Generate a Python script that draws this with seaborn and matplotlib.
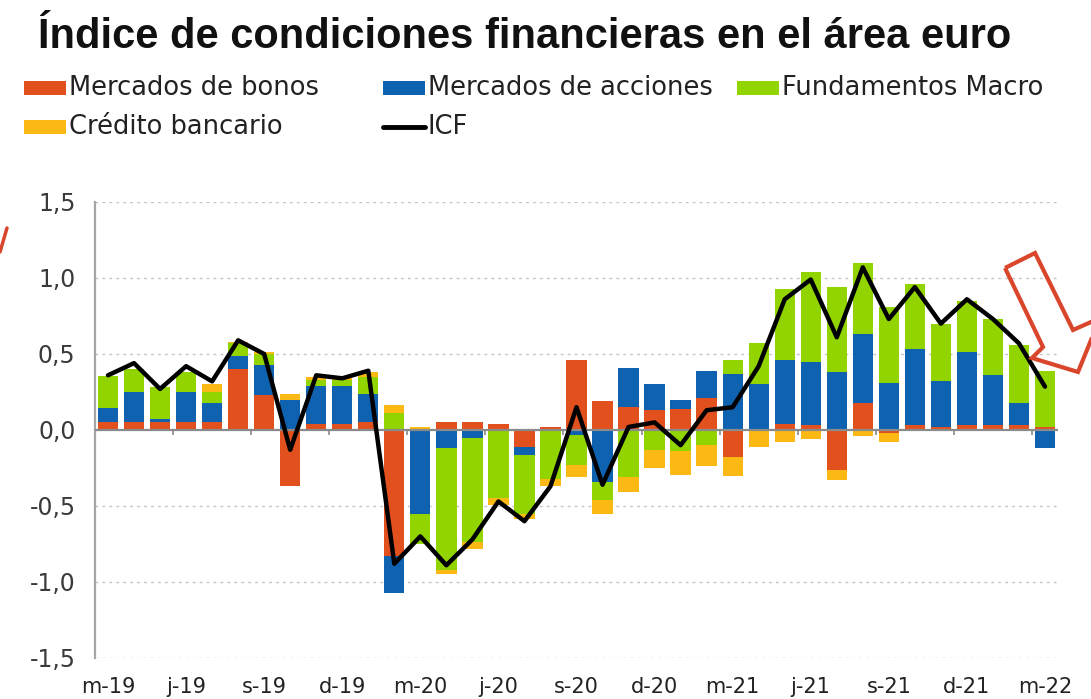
import numpy as np
import pandas as pd
import matplotlib
matplotlib.use("Agg")
import matplotlib.pyplot as plt
import seaborn as sns
from matplotlib.patches import Rectangle, Polygon
from matplotlib.lines import Line2D

# monthly data, Mar-19 .. Mar-22
months = pd.date_range("2019-03-01", "2022-03-01", freq="MS")
tick_labels = ["m-19", "j-19", "s-19", "d-19", "m-20", "j-20", "s-20",
               "d-20", "m-21", "j-21", "s-21", "d-21", "m-22"]

bonos = [0.055, 0.05, 0.05, 0.05, 0.05, 0.40, 0.23, -0.37, 0.04, 0.04, 0.05, -0.83,
         0.0, 0.055, 0.055, 0.04, -0.11, 0.02, 0.46, 0.19, 0.15, 0.13, 0.14, 0.21,
         -0.175, 0.0, 0.04, 0.03, -0.26, 0.18, -0.02, 0.03, 0.02, 0.03, 0.03, 0.03, 0.02]
acciones = [0.09, 0.20, 0.02, 0.20, 0.13, 0.09, 0.20, 0.20, 0.25, 0.25, 0.19, -0.24,
            -0.55, -0.12, -0.055, 0.0, -0.055, 0.0, -0.03, -0.34, 0.26, 0.175, 0.055, 0.175,
            0.37, 0.30, 0.42, 0.42, 0.38, 0.45, 0.31, 0.50, 0.30, 0.48, 0.33, 0.15, -0.12]
macro = [0.21, 0.15, 0.21, 0.13, 0.07, 0.08, 0.07, 0.0, 0.04, 0.04, 0.11, 0.11,
         -0.20, -0.80, -0.68, -0.45, -0.39, -0.32, -0.20, -0.12, -0.31, -0.13, -0.14, -0.10,
         0.09, 0.27, 0.47, 0.59, 0.56, 0.47, 0.50, 0.43, 0.38, 0.34, 0.37, 0.38, 0.37]
credito = [0.0, 0.0, 0.0, 0.0, 0.05, 0.01, 0.01, 0.04, 0.02, 0.01, 0.03, 0.055,
           0.02, -0.03, -0.045, -0.045, -0.03, -0.05, -0.08, -0.09, -0.10, -0.12, -0.155, -0.14,
           -0.13, -0.11, -0.08, -0.06, -0.07, -0.04, -0.06, 0.0, 0.0, 0.0, 0.0, 0.0, 0.0]
icf = [0.36, 0.44, 0.27, 0.42, 0.32, 0.59, 0.50, -0.13, 0.36, 0.34, 0.39, -0.88,
       -0.70, -0.89, -0.72, -0.47, -0.60, -0.37, 0.15, -0.36, 0.02, 0.05, -0.10, 0.13,
       0.15, 0.42, 0.86, 0.99, 0.61, 1.07, 0.73, 0.94, 0.70, 0.86, 0.73, 0.57, 0.285]

names = ["Mercados de bonos", "Mercados de acciones", "Fundamentos Macro", "Crédito bancario"]
colors = ["#E2501E", "#0F62B0", "#92D400", "#FDB913"]

sns.set_theme(style="white")
plt.rcParams["font.family"] = ["DejaVu Sans"]

W, H = 1091, 699
fig = plt.figure(figsize=(W / 100, H / 100), dpi=100)
ax = fig.add_axes([95 / W, 41 / H, 963 / W, 456 / H])

x = np.arange(len(months))
pos_b = np.zeros(len(x))
neg_b = np.zeros(len(x))
for vals, c in zip([bonos, acciones, macro, credito], colors):
    v = np.array(vals)
    ax.bar(x, v, bottom=np.where(v >= 0, pos_b, neg_b), width=0.78, color=c, linewidth=0, zorder=2)
    pos_b += np.clip(v, 0, None)
    neg_b += np.clip(v, None, 0)

df = pd.DataFrame({"x": x, "ICF": icf})
sns.lineplot(data=df, x="x", y="ICF", color="black", lw=3.2, ax=ax, zorder=5)

# grid + axes
for yv in [-1.5, -1.0, -0.5, 0.5, 1.0, 1.5]:
    ax.axhline(yv, color="#C4C4C4", ls=(0, (2, 3)), lw=1, zorder=0)
ax.axhline(0, color="#8A8A8A", lw=1.6, zorder=3)
ax.vlines(np.arange(2.5, len(x) - 1, 3), -0.035, 0, color="#8A8A8A", lw=1.2, zorder=3)

ax.set_xlim(-0.5, len(x) - 0.5)
ax.set_ylim(-1.5, 1.5)
yt = np.arange(-1.5, 1.51, 0.5)
ax.set_yticks(yt)
ax.set_yticklabels([f"{v:.1f}".replace(".", ",").replace("-0,0", "0,0") for v in yt])
ax.set_xticks(x[::3])
ax.set_xticklabels(tick_labels)
ax.tick_params(axis="y", length=0, pad=14, labelsize=17, labelcolor="#3A3A3A")
ax.tick_params(axis="x", length=0, pad=14, labelsize=15, labelcolor="#222222")
ax.set_xlabel("")
ax.set_ylabel("")
for s in ["top", "right", "bottom"]:
    ax.spines[s].set_visible(False)
ax.spines["left"].set_color("#A6A6A6")
ax.spines["left"].set_linewidth(1.6)
if ax.get_legend():
    ax.get_legend().remove()

# title
fig.text(38 / W, 1 - 48 / H, "Índice de condiciones financieras en el área euro",
         fontsize=30, fontweight="bold", family=["Liberation Sans", "DejaVu Sans"],
         va="baseline", ha="left", color="#111111")

# legend drawn by hand
def leg_patch(px, py, color, label):
    fig.add_artist(Rectangle((px / W, 1 - (py + 7) / H), 42 / W, 14 / H,
                             transform=fig.transFigure, color=color, lw=0))
    fig.text((px + 45) / W, 1 - py / H, label, fontsize=18.5, va="center", ha="left", color="#222222")

leg_patch(24, 88, colors[0], names[0])
leg_patch(383, 88, colors[1], names[1])
leg_patch(737, 88, colors[2], names[2])
leg_patch(24, 127, colors[3], names[3])
fig.add_artist(Line2D([383 / W, 425 / W], [1 - 127 / H, 1 - 127 / H], color="black", lw=3.5,
                      transform=fig.transFigure))
fig.text(428 / W, 1 - 127 / H, "ICF", fontsize=18.5, va="center", ha="left", color="#222222")

# red hollow arrow annotation (top right)
arrow_px = [(1005, 268), (1035, 253), (1073, 330), (1100, 318), (1078, 372), (1032, 358), (1043, 347)]
fig.add_artist(Polygon([(px / W, 1 - py / H) for px, py in arrow_px], closed=True, fill=False,
                       edgecolor="#D9462B", lw=3, transform=fig.transFigure))
fig.add_artist(Line2D([7 / W, 0], [1 - 228 / H, 1 - 252 / H], color="#D9462B", lw=2.5,
                      transform=fig.transFigure))

fig.savefig("out.png", dpi=100)
